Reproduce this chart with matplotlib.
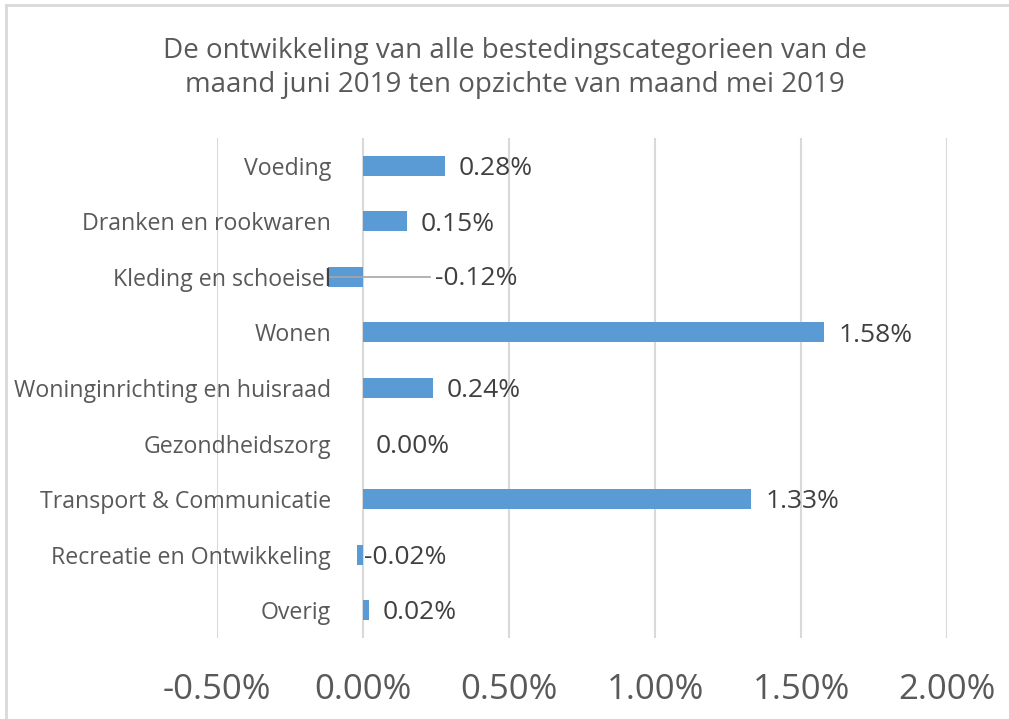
import matplotlib.pyplot as plt
from matplotlib.lines import Line2D
import numpy as np

categories = [
    "Voeding",
    "Dranken en rookwaren",
    "Kleding en schoeisel",
    "Wonen",
    "Woninginrichting en huisraad",
    "Gezondheidszorg",
    "Transport & Communicatie",
    "Recreatie en Ontwikkeling",
    "Overig",
]
values = [0.28, 0.15, -0.12, 1.58, 0.24, 0.00, 1.33, -0.02, 0.02]
xticks = [-0.5, 0.0, 0.5, 1.0, 1.5, 2.0]

plt.rcParams["font.family"] = ["Open Sans", "DejaVu Sans"]
text_color = "#595959"
bar_color = "#5B9BD5"
grid_color = "#D9D9D9"

fig = plt.figure(figsize=(10.09, 7.19), dpi=100)
ax = fig.add_axes([0.2151, 0.1127, 0.7235, 0.6953])

y = np.arange(len(categories))
ax.barh(y, values, height=0.36, color=bar_color, zorder=3)
ax.set_ylim(len(categories) - 0.5, -0.5)
ax.set_xlim(-0.5, 2.0)
ax.set_xticks(xticks)
ax.set_xticklabels(["%.2f%%" % t for t in xticks], fontsize=25, color=text_color)
ax.set_yticks(y)
ax.set_yticklabels(categories, fontsize=16.7, color=text_color)
ax.tick_params(axis="both", length=0)
ax.tick_params(axis="x", pad=25)
# category labels sit inside the axes, just left of the zero line
ax.tick_params(axis="y", pad=-82)
ax.grid(axis="x", color=grid_color, linewidth=1.5, zorder=0)
for s in ax.spines.values():
    s.set_visible(False)

# data labels (offsets in points from bar end)
offsets = [10, 10, 0, 10, 10, 9, 10, 1, 10]
for i, v in enumerate(values):
    if i == 2:
        # label pulled out with a leader line
        ax.plot([v, 0.23], [i, i], color="#A6A6A6", linewidth=1.2, zorder=4)
        ax.plot([v, v], [i - 0.15, i + 0.15], color="#404040", linewidth=1.5, zorder=5)
        ax.text(0.245, i + 0.03, "%.2f%%" % v, fontsize=19, color="#404040",
                va="center", ha="left")
        continue
    ax.annotate("%.2f%%" % v, xy=(max(v, 0), i + 0.05), xytext=(offsets[i], 0),
                textcoords="offset points", fontsize=19, color="#404040",
                va="center", ha="left")

fig.suptitle("De ontwikkeling van alle bestedingscategorieen van de\n"
             "maand juni 2019 ten opzichte van maand mei 2019",
             x=0.51, y=0.949, fontsize=20, color=text_color, linespacing=1.3)

# chart area border (left and top edges)
fig.add_artist(Line2D([0.006, 0.006], [0, 0.993], color=grid_color, linewidth=2))
fig.add_artist(Line2D([0.006, 1.0], [0.993, 0.993], color=grid_color, linewidth=2))

fig.savefig("out.png", dpi=100)
